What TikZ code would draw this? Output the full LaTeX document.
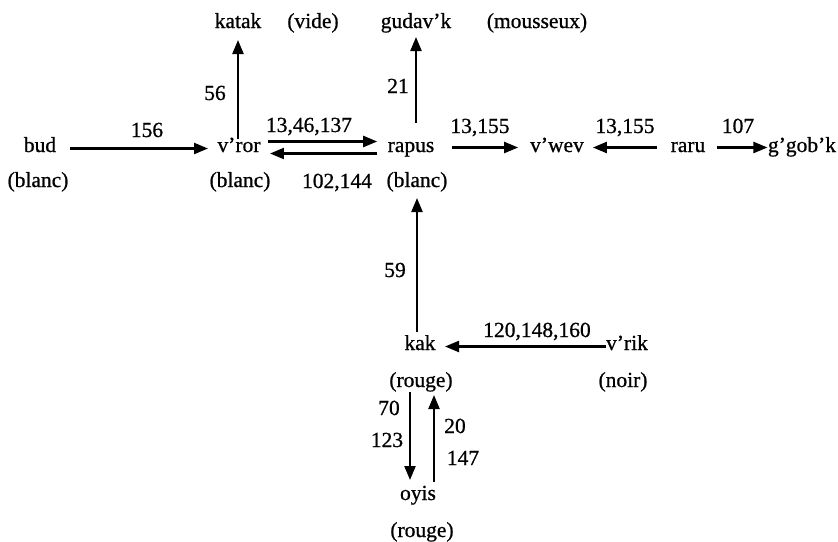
\documentclass[tikz,border=0pt]{standalone}
\usepackage{fontspec}
\setmainfont[FakeBold=0.8]{Liberation Serif}
\usetikzlibrary{arrows.meta}
\begin{document}
\begin{tikzpicture}[x=1pt,y=-1pt,
  txt/.style={anchor=base,inner sep=0pt,outer sep=0pt,
    text height=13pt,text depth=4pt,font=\fontsize{21.5}{25}\selectfont},
  lbl/.style={anchor=base,inner sep=0pt,font=\fontsize{21.5}{25}\selectfont},
  arr/.style={line width=2.3pt,-{Triangle[length=14pt,width=11pt]}}]
\useasboundingbox (0,0) rectangle (838,541);

% states and their colours
\node[txt] (katak)    at (238,28)  {katak};
\node[txt] (vide)     at (313,28)  {(vide)};
\node[txt] (gudav)    at (416,28)  {gudav'k};
\node[txt] (mousseux) at (537,28)  {(mousseux)};

\node[txt] (bud)    at (40,152)  {bud};
\node[txt] (blancA) at (38,187)  {(blanc)};
\node[txt] (vror)   at (239,152) {v'ror};
\node[txt] (blancB) at (240,187) {(blanc)};
\node[txt] (rapus)  at (411,152) {rapus};
\node[txt] (blancC) at (417,187) {(blanc)};
\node[txt] (vwev)   at (557,152) {v'wev};
\node[txt] (raru)   at (688,152) {raru};
\node[txt] (ggobk)  at (802,152) {g'gob'k};

\node[txt] (kak)    at (420,350) {kak};
\node[txt] (rougeA) at (421,387) {(rouge)};
\node[txt] (vrik)   at (627,350) {v'rik};
\node[txt] (noir)   at (623,387) {(noir)};
\node[txt] (oyis)   at (418,500) {oyis};
\node[txt] (rougeB) at (422,537) {(rouge)};

% transitions
\draw[arr,shorten <=14pt,shorten >=9.5pt] ([yshift=-1pt]bud.east) -- ([yshift=-1pt]vror.west);
\draw[arr,shorten <=7.5pt,shorten >=10.5pt] ([yshift=6pt]vror.east) -- ([yshift=6pt]rapus.west);
\draw[arr,shorten <=10.5pt,shorten >=9.5pt] ([yshift=-6pt]rapus.west) -- ([yshift=-6pt]vror.east);
\draw[arr,shorten <=0pt,shorten >=8pt] (vror.north -| katak.south) -- (katak.south);
\draw[arr,shorten <=16pt,shorten >=5pt] (rapus.north -| gudav.south) -- (gudav.south);
\draw[arr,shorten <=17.5pt,shorten >=12pt] (rapus.east) -- (vwev.west);
\draw[arr,shorten <=13.5pt,shorten >=9pt] (raru.west) -- (vwev.east);
\draw[arr,shorten <=11.5pt,shorten >=0.5pt] (raru.east) -- (ggobk.west);
\draw[arr,shorten <=5pt,shorten >=7pt] (kak.north -| blancC.south) -- (blancC.south);
\draw[arr,shorten <=0pt,shorten >=9.5pt] ([yshift=-1pt]vrik.west) -- ([yshift=-1pt]kak.east);
\draw[arr,shorten <=1pt,shorten >=7pt] ([xshift=-11pt]rougeA.south) -- ([xshift=-11pt]rougeA.south |- oyis.north);
\draw[arr,shorten <=5pt,shorten >=4pt] ([xshift=13pt]rougeA.south |- oyis.north) -- ([xshift=13pt]rougeA.south);

% transition numbers
\node[lbl] (n156)  at (147,137) {156};
\node[lbl] (n13a)  at (309,132) {13,46,137};
\node[lbl] (n102)  at (337,188) {102,144};
\node[lbl] (n155a) at (480,133) {13,155};
\node[lbl] (n155b) at (625,133) {13,155};
\node[lbl] (n107)  at (738,133) {107};
\node[lbl] (n56)   at (215,100) {56};
\node[lbl] (n21)   at (398,93)  {21};
\node[lbl] (n59)   at (395,277) {59};
\node[lbl] (n120)  at (537,337) {120,148,160};
\node[lbl] (n70)   at (389,415) {70};
\node[lbl] (n123)  at (387,447) {123};
\node[lbl] (n20)   at (455,433) {20};
\node[lbl] (n147)  at (463,465) {147};
\end{tikzpicture}
\end{document}
